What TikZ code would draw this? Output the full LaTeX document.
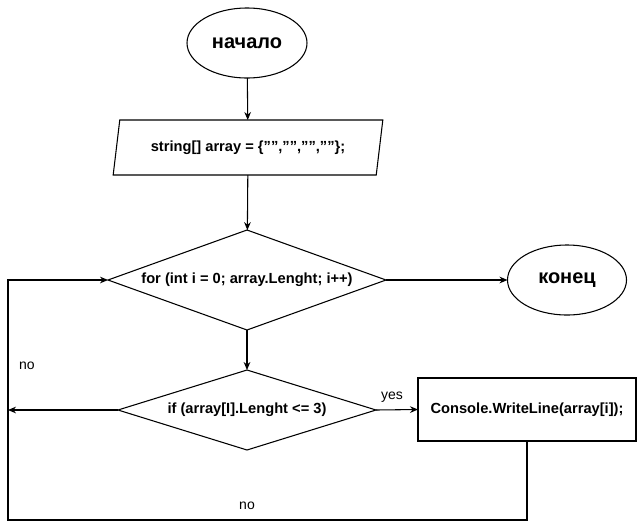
\documentclass[tikz,border=0pt]{standalone}
\usepackage{fontspec}
\setmainfont{Liberation Sans}
\usetikzlibrary{shapes.geometric,arrows.meta}
\newcommand{\sq}{\symbol{34}}
\begin{document}
\begin{tikzpicture}[x=0.75pt,y=-0.75pt,
  box/.style={draw, line width=0.8pt, inner sep=0pt, outer sep=0pt,
    font=\bfseries\fontsize{11}{13}\selectfont},
  title/.style={box, ellipse, font=\bfseries\fontsize{15}{18}\selectfont},
  decision/.style={box, diamond},
  arr/.style={-{Stealth[length=6pt,width=5pt]}, line width=0.8pt},
  lbl/.style={font=\fontsize{10.5}{12}\selectfont, inner sep=0pt}]
\useasboundingbox (0,0) rectangle (638,529);

\node[title, minimum width=90pt, minimum height=52.5pt] (start) at (247,43) {начало};
\node[box, trapezium, trapezium left angle=70, trapezium right angle=110,
      trapezium stretches=true, minimum width=202.5pt, minimum height=41.25pt]
      (arr0) at (248,147.5) {string[] array = \{\sq\sq,\sq\sq,\sq\sq,\sq\sq\};};
\node[decision, aspect=2.78, minimum width=208.5pt, minimum height=75pt] (loop) at (247,280)
      {for (int i = 0; array.Lenght; i++)};
\node[title, minimum width=89.25pt, minimum height=52.5pt] (stop) at (567,280) {конец};
\node[decision, aspect=3.2, minimum width=193.5pt, minimum height=60pt] (cond) at (247,410)
      {if (array[I].Lenght <= 3)};
\node[box, rectangle, minimum width=163.5pt, minimum height=47.25pt] (out) at (527,409.5)
      {Console.WriteLine(array[i]);};

\coordinate (noend) at (8,410);
\coordinate (lb) at (8,520);
\coordinate (lt) at (8,280);

\draw[arr] (start) -- (arr0);
\draw[arr] (arr0) -- (loop);
\draw[arr] (loop.east) -- (stop.west);
\draw[arr] (loop.south) -- (cond.north);
\draw[arr] (cond.east) -- (out.west);
\draw[arr] (cond.west) -- (noend);
\draw[arr] (out.south) |- (lb) -- (lt) -- (loop.west);

\node[lbl] (lno1) at (27,366) {no};
\node[lbl] (lyes) at (392,397) {yes};
\node[lbl] (lno2) at (247,506) {no};
\end{tikzpicture}
\end{document}
